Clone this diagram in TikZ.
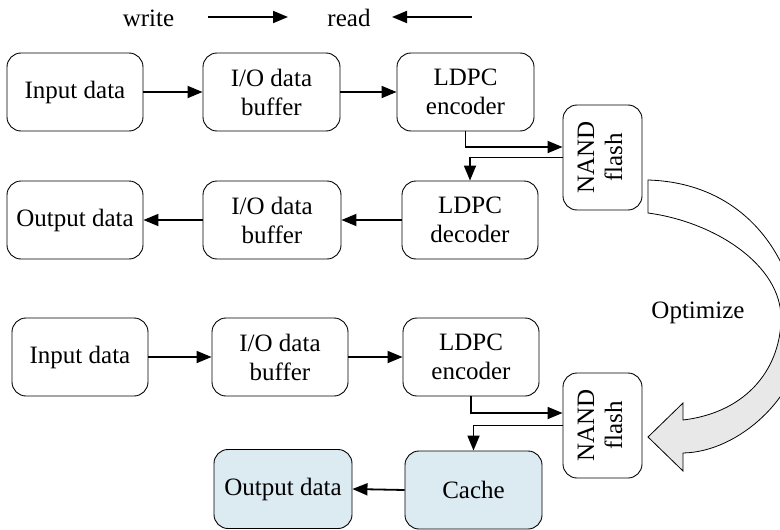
\documentclass[tikz,border=0pt]{standalone}
\usepackage{fontspec}
\setmainfont{Liberation Serif}
\usetikzlibrary{arrows.meta,calc}
\definecolor{cacheblue}{RGB}{220,234,242}
\definecolor{arrowgray}{RGB}{232,232,232}
\begin{document}
\begin{tikzpicture}[x=1pt,y=-1pt,
  box/.style={draw, rounded corners=14pt, line width=0.9pt, minimum width=136pt, minimum height=78pt, align=center, inner sep=0pt, font=\fontsize{25}{29}\selectfont},
  nandbox/.style={draw, rounded corners=14pt, line width=0.9pt, minimum width=79pt, minimum height=105pt, inner sep=0pt, font=\fontsize{25}{28}\selectfont},
  conn/.style={line width=1.8pt, -{Triangle[length=15pt,width=12pt]}},
  lbl/.style={anchor=base, inner sep=0pt, font=\fontsize{25}{29}\selectfont}]
\useasboundingbox (0,0) rectangle (780,530);

% legend
\node[lbl] (w) at (148.5,26) {write};
\coordinate (w1) at (208,17);
\coordinate (w2) at (288,17);
\draw[conn] (w1) -- (w2);
\node[lbl] (r) at (349,26) {read};
\coordinate (r1) at (472,17);
\coordinate (r2) at (392,17);
\draw[conn] (r1) -- (r2);

% top diagram
\node[box] (inA) at (75,92) {Input data};
\node[box, minimum width=137pt] (bufA) at (271.5,92) {I/O data\\buffer};
\node[box, minimum width=137pt] (encA) at (465.5,92) {LDPC\\encoder};
\node[nandbox] (nand1) at (602.5,157.5) {\rotatebox{90}{\begin{tabular}{@{}c@{}}NAND\\flash\end{tabular}}};
\node[box] (outA) at (75,220) {Output data};
\node[box, minimum width=138pt] (bufB) at (272,220) {I/O data\\buffer};
\node[box] (decA) at (470,220) {LDPC\\decoder};

\draw[conn] (inA.east) -- (bufA.west);
\draw[conn] (bufA.east) -- (encA.west);
\draw[conn] (encA.south) |- ($(nand1.west)+(0,-10.5)$);
\draw[conn] (nand1.west) -| (decA.north);
\draw[conn] (decA.west) -- (bufB.east);
\draw[conn] (bufB.west) -- (outA.east);

% bottom diagram
\node[box] (inB) at (80,357) {Input data};
\node[box] (bufC) at (280,357) {I/O data\\buffer};
\node[box] (encB) at (471,357) {LDPC\\encoder};
\node[nandbox] (nand2) at (602.5,425.5) {\rotatebox{90}{\begin{tabular}{@{}c@{}}NAND\\flash\end{tabular}}};
\node[box, fill=cacheblue, minimum width=138pt, minimum height=79pt] (outB) at (283,489) {Output data};
\node[box, fill=cacheblue, minimum width=137pt] (cache) at (473.5,490) {Cache};

\draw[conn] (inB.east) -- (bufC.west);
\draw[conn] (bufC.east) -- (encB.west);
\draw[conn] (encB.south) |- ($(nand2.west)+(0,-12.5)$);
\draw[conn] (nand2.west) -| (cache.north);
\draw[conn] (cache.west) -- (outB.east);

% curved optimize arrow
\begin{scope}
\clip (0,0) rectangle (780,530);
\fill[white] (648,180) .. controls (750,183) and (800,265) .. (800,345)
  -- (781,318) .. controls (781,265) and (715,222) .. (648,213) -- cycle;
\fill[arrowgray] (781,318) .. controls (781,365) and (750,412) .. (683,420)
  -- (683,403) -- (648,437) -- (683,471) -- (683,453)
  .. controls (740,452) and (798,395) .. (800,345) -- cycle;
\draw[line width=0.8pt, line join=miter]
  (648,180) .. controls (750,183) and (800,265) .. (800,345)
  .. controls (798,395) and (740,452) .. (683,453)
  -- (683,471) -- (648,437) -- (683,403) -- (683,420)
  .. controls (750,412) and (781,365) .. (781,318)
  .. controls (781,265) and (715,222) .. (648,213) -- cycle;
\end{scope}
\node[lbl] (opt) at (698,318) {Optimize};
\end{tikzpicture}
\end{document}
